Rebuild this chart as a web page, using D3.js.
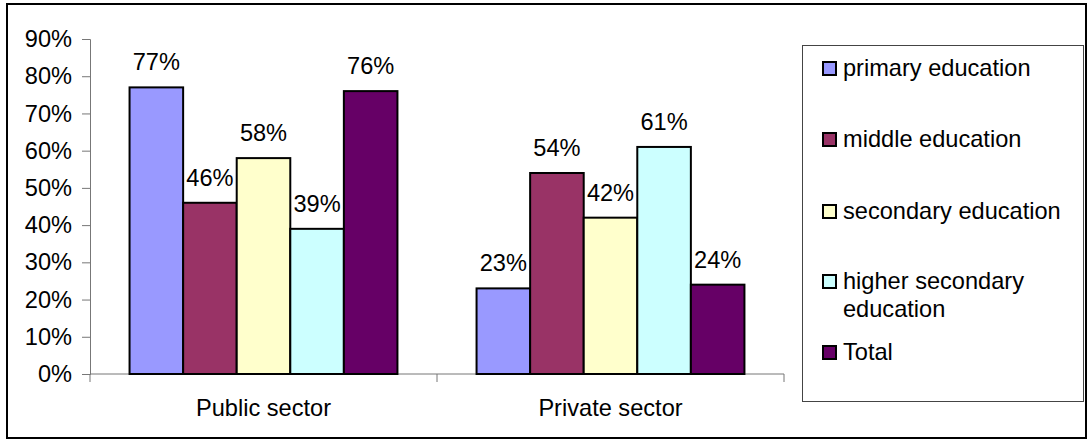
<!DOCTYPE html>
<html>
<head>
<meta charset="utf-8">
<script src="https://cdn.jsdelivr.net/npm/d3@7"></script>
<style>
  html, body { margin: 0; padding: 0; background: #fff; }
  svg { display: block; font-family: "Liberation Sans", Arial, sans-serif; }
</style>
</head>
<body>
<svg id="chart" width="1089" height="440"></svg>
<script>
// Share of students by sector and education level
const categories = ["Public sector", "Private sector"];
const seriesNames = ["primary education", "middle education", "secondary education", "higher secondary education", "Total"];
const publicValues = [77, 46, 58, 39, 76];
const privateValues = [23, 54, 42, 61, 24];
const yTicks = [0, 10, 20, 30, 40, 50, 60, 70, 80, 90];
const colors = ["#9999FF", "#993366", "#FFFFCC", "#CCFFFF", "#660066"];

const valuesByCategory = [publicValues, privateValues];
const FONT = 23.6;

const svg = d3.select("#chart");

// outer frame
svg.append("rect")
  .attr("x", 7).attr("y", 4).attr("width", 1079).attr("height", 434)
  .attr("fill", "none").attr("stroke", "#000").attr("stroke-width", 2);

const plot = { left: 90, right: 784, top: 39, bottom: 374 };

const y = d3.scaleLinear().domain([0, 90]).range([plot.bottom, plot.top]);
const x0 = d3.scaleBand().domain(categories).range([plot.left, plot.right]).padding(0);
const bw = x0.bandwidth();
const x1 = d3.scaleBand().domain(seriesNames).range([bw * 0.114, bw * 0.886]).padding(0);

// y axis
const yAxis = d3.axisLeft(y).tickValues(yTicks).tickSize(8).tickPadding(10)
  .tickFormat(d => d + "%");
const gy = svg.append("g").attr("transform", `translate(${plot.left},0)`).call(yAxis);
gy.select(".domain").attr("stroke", "#777");
gy.selectAll(".tick line").attr("stroke", "#777");
gy.selectAll(".tick text").attr("font-size", FONT).attr("fill", "#000")
  .attr("font-family", "Liberation Sans, Arial, sans-serif");

// x axis baseline with category dividers
const gx = svg.append("g");
gx.append("line")
  .attr("x1", plot.left).attr("x2", plot.right)
  .attr("y1", plot.bottom).attr("y2", plot.bottom)
  .attr("stroke", "#777");
const dividers = categories.map(c => x0(c)).concat([plot.right]);
gx.selectAll("line.div").data(dividers).enter().append("line")
  .attr("class", "div")
  .attr("x1", d => d).attr("x2", d => d)
  .attr("y1", plot.bottom).attr("y2", plot.bottom + 8)
  .attr("stroke", "#777");
gx.selectAll("text.cat").data(categories).enter().append("text")
  .attr("class", "cat")
  .attr("x", d => x0(d) + bw / 2).attr("y", 416)
  .attr("text-anchor", "middle").attr("font-size", FONT)
  .text(d => d);

// bars
const groups = svg.selectAll("g.cat").data(categories).enter().append("g")
  .attr("class", "cat")
  .attr("transform", d => `translate(${x0(d)},0)`);

groups.each(function(c, ci) {
  const g = d3.select(this);
  const vals = valuesByCategory[ci].map((v, i) => ({ name: seriesNames[i], v, i }));
  g.selectAll("rect").data(vals).enter().append("rect")
    .attr("x", d => x1(d.name))
    .attr("y", d => y(d.v))
    .attr("width", x1.bandwidth())
    .attr("height", d => y(0) - y(d.v))
    .attr("fill", d => colors[d.i])
    .attr("stroke", "#000").attr("stroke-width", 2);
  g.selectAll("text").data(vals).enter().append("text")
    .attr("x", d => x1(d.name) + x1.bandwidth() / 2)
    .attr("y", d => y(d.v) - 17)
    .attr("text-anchor", "middle").attr("font-size", FONT)
    .text(d => d.v + "%");
});

// legend
const legend = svg.append("g");
legend.append("rect")
  .attr("x", 802.5).attr("y", 45.5).attr("width", 281).attr("height", 356)
  .attr("fill", "#fff").attr("stroke", "#444").attr("stroke-width", 1);

const legendRows = [
  { lines: ["primary education"], y: 76 },
  { lines: ["middle education"], y: 147 },
  { lines: ["secondary education"], y: 219 },
  { lines: ["higher secondary", "education"], y: 289 },
  { lines: ["Total"], y: 360 }
];
legendRows.forEach((row, i) => {
  legend.append("rect")
    .attr("x", 823).attr("y", row.y - 14).attr("width", 13).attr("height", 13)
    .attr("fill", colors[i]).attr("stroke", "#000").attr("stroke-width", 2);
  const t = legend.append("text").attr("font-size", FONT);
  row.lines.forEach((ln, k) => {
    t.append("tspan").attr("x", 843).attr("y", row.y + k * 28).text(ln);
  });
});
</script>
</body>
</html>
